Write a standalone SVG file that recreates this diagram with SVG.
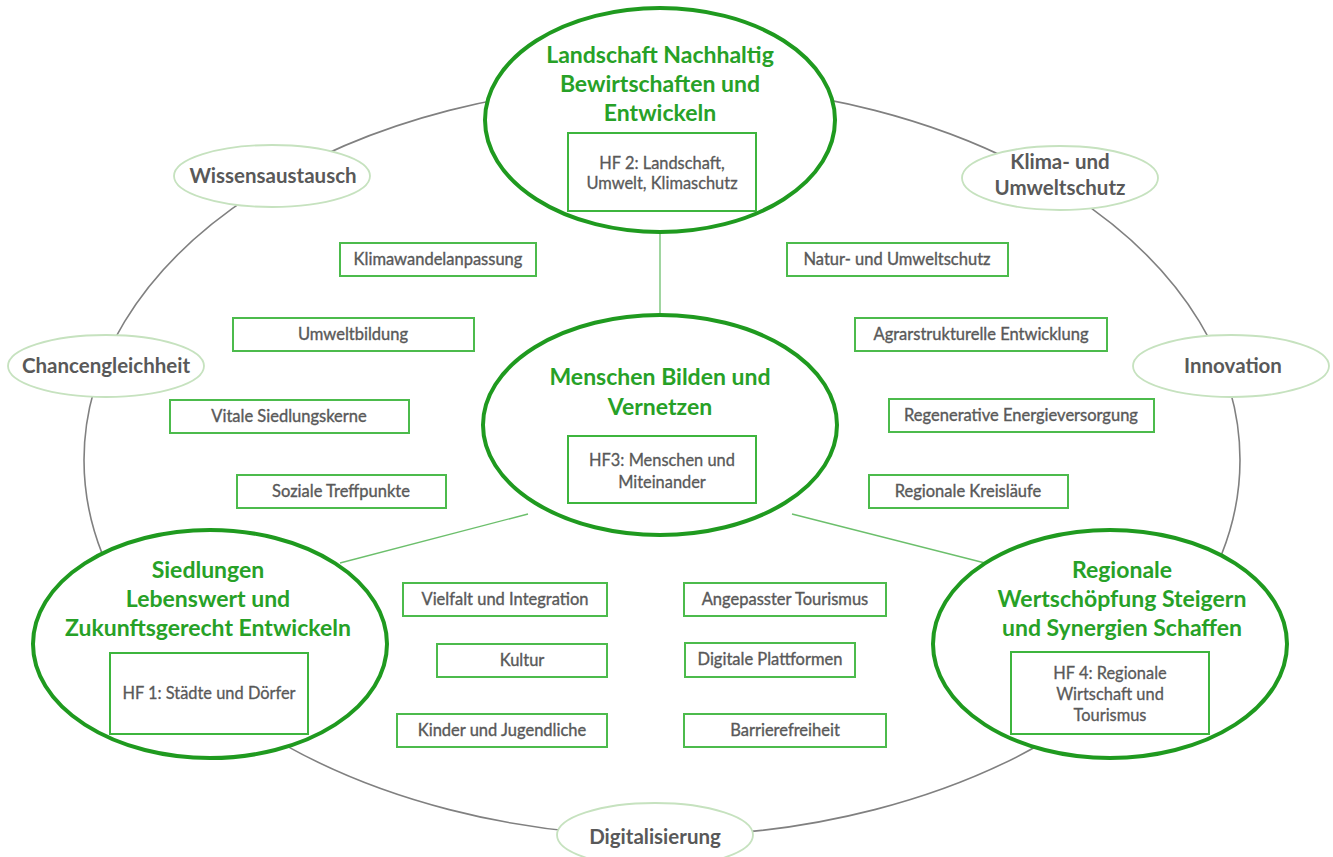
<svg xmlns="http://www.w3.org/2000/svg" width="1333" height="857" viewBox="0 0 1333 857">
<style>
.big{fill:#fff;stroke:#1f9a1f;stroke-width:4}
.title{font-family:Lato,"Liberation Sans",sans-serif;font-weight:bold;font-size:23px;fill:#27a127;text-anchor:middle}
.hfbox{fill:#fff;stroke:#3db53d;stroke-width:2}
.hf{font-family:Lato,"Liberation Sans",sans-serif;font-size:16.4px;fill:#595959;stroke:#595959;stroke-width:0.3;text-anchor:middle}
.small{fill:#fff;stroke:#c6e2bf;stroke-width:1.8}
.st{font-family:Lato,"Liberation Sans",sans-serif;font-weight:bold;font-size:20.5px;fill:#595959;text-anchor:middle}
.box{fill:#fff;stroke:#4cbb4c;stroke-width:2}
.bt{font-family:Lato,"Liberation Sans",sans-serif;font-size:16.5px;fill:#595959;stroke:#595959;stroke-width:0.35;text-anchor:middle}
.ring{fill:none;stroke:#808080;stroke-width:1.6}
.conn{stroke:#6cbf6c;stroke-width:1.3;fill:none}
</style>
<rect width="1333" height="857" fill="#fff"/>
<g id="connectors">
<ellipse class="ring" cx="662" cy="460" rx="578" ry="376"/>
<line class="conn" x1="660" y1="232" x2="660" y2="316"/>
<line class="conn" x1="528" y1="514" x2="340" y2="563"/>
<line class="conn" x1="792" y1="514" x2="985" y2="563"/>
</g>
<g id="hf2">
<ellipse class="big" cx="660" cy="120" rx="175" ry="112"/>
<text class="title" x="660" y="63">Landschaft Nachhaltig</text>
<text class="title" x="660" y="92">Bewirtschaften und</text>
<text class="title" x="660" y="121">Entwickeln</text>
<rect class="hfbox" x="568" y="133" width="188" height="78"/>
<text class="hf" x="662" y="169">HF 2: Landschaft,</text>
<text class="hf" x="662" y="189">Umwelt, Klimaschutz</text>
</g>
<g id="hf3">
<ellipse class="big" cx="660" cy="425" rx="177" ry="110"/>
<text class="title" x="660" y="385">Menschen Bilden und</text>
<text class="title" x="660" y="415">Vernetzen</text>
<rect class="hfbox" x="568" y="436" width="188" height="67"/>
<text class="hf" x="662" y="466">HF3: Menschen und</text>
<text class="hf" x="662" y="488">Miteinander</text>
</g>
<g id="hf1">
<ellipse class="big" cx="210" cy="644" rx="177" ry="114"/>
<text class="title" x="208" y="578">Siedlungen</text>
<text class="title" x="208" y="607">Lebenswert und</text>
<text class="title" x="208" y="636">Zukunftsgerecht Entwickeln</text>
<rect class="hfbox" x="110" y="653" width="198" height="81"/>
<text class="hf" x="209" y="699">HF 1: Städte und Dörfer</text>
</g>
<g id="hf4">
<ellipse class="big" cx="1110" cy="644" rx="177" ry="114"/>
<text class="title" x="1122" y="578">Regionale</text>
<text class="title" x="1122" y="607">Wertschöpfung Steigern</text>
<text class="title" x="1122" y="636">und Synergien Schaffen</text>
<rect class="hfbox" x="1011" y="652" width="198" height="82"/>
<text class="hf" x="1110" y="679">HF 4: Regionale</text>
<text class="hf" x="1110" y="700">Wirtschaft und</text>
<text class="hf" x="1110" y="721">Tourismus</text>
</g>
<g id="wissensaustausch">
<ellipse class="small" cx="272" cy="176" rx="98" ry="31"/>
<text class="st" x="273" y="183">Wissensaustausch</text>
</g>
<g id="klima">
<ellipse class="small" cx="1060" cy="178" rx="98" ry="32"/>
<text class="st" x="1060" y="169">Klima- und</text>
<text class="st" x="1060" y="195">Umweltschutz</text>
</g>
<g id="chancengleichheit">
<ellipse class="small" cx="106" cy="366" rx="98" ry="31"/>
<text class="st" x="106" y="373">Chancengleichheit</text>
</g>
<g id="innovation">
<ellipse class="small" cx="1231" cy="366" rx="98" ry="31"/>
<text class="st" x="1233" y="373">Innovation</text>
</g>
<g id="digitalisierung">
<ellipse class="small" cx="655" cy="835" rx="98" ry="32"/>
<text class="st" x="655" y="844">Digitalisierung</text>
</g>
<g id="klimawandelanpassung"><rect class="box" x="340" y="243" width="196" height="33"/><text class="bt" x="438" y="265">Klimawandelanpassung</text></g>
<g id="umweltbildung"><rect class="box" x="233" y="318" width="241" height="33"/><text class="bt" x="353" y="340">Umweltbildung</text></g>
<g id="vitale"><rect class="box" x="170" y="400" width="239" height="33"/><text class="bt" x="289" y="422">Vitale Siedlungskerne</text></g>
<g id="soziale"><rect class="box" x="237" y="475" width="209" height="33"/><text class="bt" x="341" y="497">Soziale Treffpunkte</text></g>
<g id="natur"><rect class="box" x="787" y="243" width="221" height="33"/><text class="bt" x="897" y="265">Natur- und Umweltschutz</text></g>
<g id="agrar"><rect class="box" x="855" y="318" width="252" height="33"/><text class="bt" x="981" y="340">Agrarstrukturelle Entwicklung</text></g>
<g id="regenerative"><rect class="box" x="889" y="399" width="265" height="33"/><text class="bt" x="1021" y="421">Regenerative Energieversorgung</text></g>
<g id="kreislaeufe"><rect class="box" x="869" y="475" width="199" height="33"/><text class="bt" x="968" y="497">Regionale Kreisläufe</text></g>
<g id="vielfalt"><rect class="box" x="403" y="583" width="204" height="33"/><text class="bt" x="505" y="605">Vielfalt und Integration</text></g>
<g id="kultur"><rect class="box" x="437" y="644" width="170" height="33"/><text class="bt" x="522" y="666">Kultur</text></g>
<g id="kinder"><rect class="box" x="397" y="714" width="210" height="33"/><text class="bt" x="502" y="736">Kinder und Jugendliche</text></g>
<g id="tourismus"><rect class="box" x="684" y="583" width="202" height="33"/><text class="bt" x="785" y="605">Angepasster Tourismus</text></g>
<g id="plattformen"><rect class="box" x="685" y="643" width="170" height="34"/><text class="bt" x="770" y="665">Digitale Plattformen</text></g>
<g id="barriere"><rect class="box" x="684" y="714" width="202" height="33"/><text class="bt" x="785" y="736">Barrierefreiheit</text></g>
</svg>
